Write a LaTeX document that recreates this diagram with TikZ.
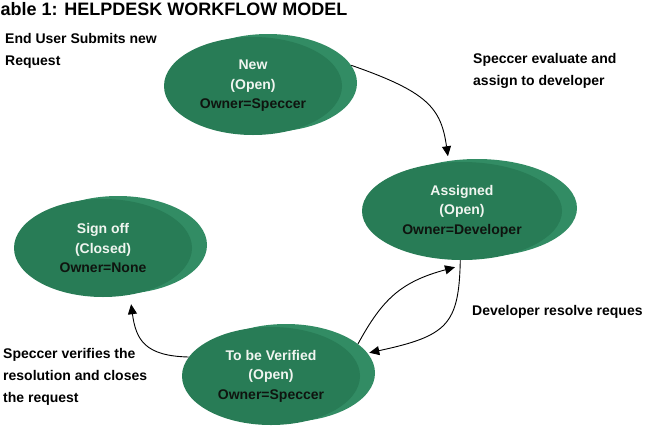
\documentclass[tikz,border=0pt]{standalone}
\usepackage{fontspec}
\setmainfont{Liberation Sans}
\usetikzlibrary{shapes.geometric,shadows,arrows.meta}
\definecolor{stgreen}{RGB}{40,124,86}
\definecolor{rimgreen}{RGB}{50,140,100}
\definecolor{lighttext}{RGB}{240,245,240}
\definecolor{darktext}{RGB}{15,20,15}
\newcommand{\lt}[1]{\textcolor{lighttext}{#1}}
\begin{document}
\begin{tikzpicture}[x=1pt,y=-1pt,
  state/.style={ellipse, fill=stgreen, inner sep=0pt, minimum height=98pt,
    minimum width=178pt, align=center, text=darktext,
    font=\bfseries\fontsize{14}{19.5}\selectfont,
    copy shadow={shadow xshift=15pt, shadow yshift=3pt, fill=rimgreen, draw=none}},
  lbl/.style={anchor=north west, align=left, inner sep=0pt,
    font=\bfseries\fontsize{14}{22}\selectfont},
  flow/.style={-{Triangle[length=10pt,width=9pt]}, line width=0.9pt, black},
]
\useasboundingbox (0,0) rectangle (645,426);

\node[anchor=north west, inner sep=0pt, font=\bfseries\fontsize{18}{20}\selectfont] (title) at (0.5,2) {able 1: HELPDESK WORKFLOW MODEL};

\node[state] (new) at (253,86) {\lt{New}\\\lt{(Open)}\\Owner=Speccer};
\node[state, minimum width=200pt] (assigned) at (462,211) {\lt{Assigned}\\\lt{(Open)}\\Owner=Developer};
\node[state] (signoff) at (103,248) {\lt{Sign off}\\\lt{(Closed)}\\Owner=None};
\node[state] (verify) at (271,376) {\lt{To be Verified}\\\lt{(Open)}\\Owner=Speccer};

\node[lbl] (l1) at (5,33) {End User Submits new\\Request};
\node[lbl] (l2) at (473,53) {Speccer evaluate and\\assign to developer};
\node[lbl] (l3) at (472,305) {Developer resolve reques};
\node[lbl] (l4) at (3,348) {Speccer verifies the\\resolution and closes\\the request};

\draw[flow] ([shift={(15,-3)}]new.12) .. controls (428,92) and (441,108) .. ([shift={(-1,-6)}]assigned.105);
\draw[flow] (assigned.268) .. controls (459,325) and (447,336) .. ([shift={(17,-3)}]verify.14);
\draw[flow] ([shift={(15,-3)}]verify.22) .. controls (382,300) and (400,282) .. ([shift={(-7,7)}]assigned.270);
\draw[flow] (verify.167) .. controls (145,356) and (136,340) .. ([shift={(3,9)}]signoff.-62);
\end{tikzpicture}
\end{document}
